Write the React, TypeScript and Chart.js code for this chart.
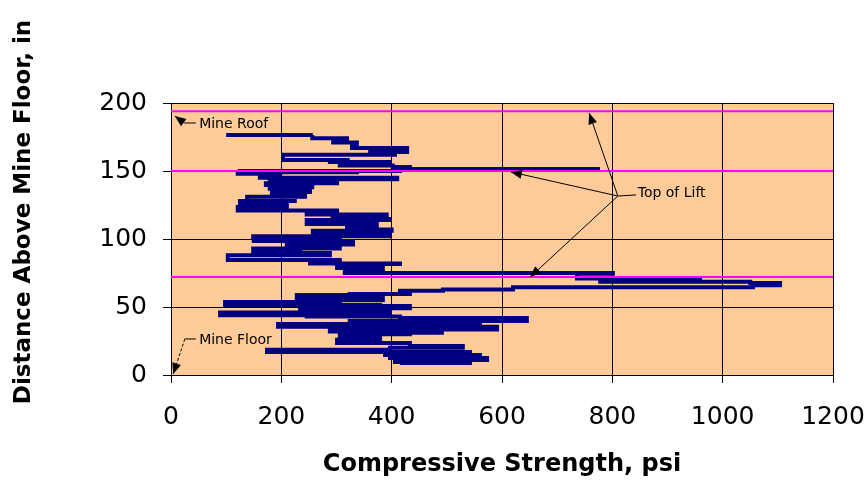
import React, { useEffect, useRef } from 'react';
import { Chart, registerables } from 'chart.js';

Chart.register(...registerables);

// Compressive strength (psi) profile, read top (roof side) to bottom (floor)
const strength = [
  100, 257, 256, 319, 294, 337, 328, 428, 361, 406, 203, 324, 288, 397, 306, 402, 433, 774, 415, 121,
  337, 121, 198, 161, 410, 179, 301, 172, 256, 179, 252, 183, 243, 138, 228, 125, 210, 121, 301, 246,
  391, 293, 397, 246, 373, 319, 400, 257, 397, 149, 306, 150, 330, 210, 306, 149, 234, 288, 103, 306,
  252, 415, 301, 384, 315, 801, 736, 959, 778, 1050, 1104, 1055, 620, 493, 415, 433, 324, 228, 384, 306,
  98, 379, 433, 234, 397, 89, 246, 415, 645, 324, 560, 194, 591, 288, 491, 433, 306, 379, 301, 433,
  529, 397, 174, 542, 388, 560, 397, 573, 406, 542, 415,
];
// Distance above mine floor (in) for each strength reading
const depth = [
  176.5, 176.5, 174, 173.5, 171, 169, 167, 164, 163, 162, 158, 158, 156.6, 156, 154, 153, 151.5, 150.7, 150, 150,
  149, 148, 147, 145, 144, 142.6, 141, 139.7, 138, 137, 134.6, 132, 131, 128, 128, 125, 123.5, 121, 120, 118,
  117, 114.7, 114, 111, 109.6, 107, 106, 103.7, 102, 100.7, 100, 98.5, 96, 95, 93, 91, 89.7, 88, 84.6, 84,
  82, 81.6, 78.7, 77, 75, 74.5, 71, 70.6, 68.5, 67.6, 66, 64.5, 62.8, 62, 61, 59.5, 58.8, 56.6, 55, 53.7,
  51.5, 50.7, 49, 47.8, 46, 44, 43, 42, 39.7, 38.5, 37.5, 35.5, 33.5, 32, 31, 30, 28, 26, 23.5, 21.3,
  20, 18.5, 17, 16.2, 14.7, 14, 12.5, 11, 9.6, 8.8, 8,
];

// Horizontal reference lines: mine roof and tops of lifts (in)
const referenceLevels = [194, 150, 72];

const xMin = 0;
const xMax = 1200;
const xStep = 200;
const yMin = 0;
const yMax = 200;
const yStep = 50;

const xTitle = 'Compressive Strength, psi';
const yTitle = 'Distance Above Mine Floor, in';

// Annotation anchors in data units
const roofLabel = { text: 'Mine Roof', x: 51, y: 184.6 };
const roofPath = [[45, 185.3], [24, 185.3], [7, 190.4]];
const floorLabel = { text: 'Mine Floor', x: 51, y: 25.7 };
const floorPath = [[45, 26.5], [25, 26.5], [4, 0.7]];
const liftLabel = { text: 'Top of Lift', x: 846, y: 133.8 };
const liftConnector = [[843, 132.4], [810, 131.6]];
const liftTips = [[758, 192.6], [616, 149.3], [651, 72]];

function drawArrowHead(ctx: CanvasRenderingContext2D, fx: number, fy: number, tx: number, ty: number) {
  const ang = Math.atan2(ty - fy, tx - fx);
  const len = 11;
  const half = 4.5;
  const bx = tx - len * Math.cos(ang);
  const by = ty - len * Math.sin(ang);
  ctx.beginPath();
  ctx.moveTo(tx, ty);
  ctx.lineTo(bx + half * Math.sin(ang), by - half * Math.cos(ang));
  ctx.lineTo(bx - half * Math.sin(ang), by + half * Math.cos(ang));
  ctx.closePath();
  ctx.fill();
}

const decorPlugin = {
  id: 'decor',
  beforeDraw(chart: any) {
    const { ctx, chartArea } = chart;
    ctx.save();
    ctx.fillStyle = '#FFCC99';
    ctx.fillRect(chartArea.left, chartArea.top, chartArea.right - chartArea.left, chartArea.bottom - chartArea.top);
    ctx.restore();
  },
  afterDraw(chart: any) {
    const { ctx } = chart;
    const xs = chart.scales.x;
    const ys = chart.scales.y;
    const px = (v: number) => xs.getPixelForValue(v);
    const py = (v: number) => ys.getPixelForValue(v);

    ctx.save();
    ctx.strokeStyle = '#000';
    ctx.fillStyle = '#000';
    ctx.lineWidth = 1;

    // Mine Roof
    ctx.beginPath();
    roofPath.forEach((p, i) => (i === 0 ? ctx.moveTo(px(p[0]), py(p[1])) : ctx.lineTo(px(p[0]), py(p[1]))));
    ctx.stroke();
    const rn = roofPath.length;
    drawArrowHead(ctx, px(roofPath[rn - 2][0]), py(roofPath[rn - 2][1]), px(roofPath[rn - 1][0]), py(roofPath[rn - 1][1]));

    // Mine Floor
    ctx.beginPath();
    ctx.moveTo(px(floorPath[0][0]), py(floorPath[0][1]));
    ctx.lineTo(px(floorPath[1][0]), py(floorPath[1][1]));
    ctx.stroke();
    ctx.setLineDash([3, 2]);
    ctx.beginPath();
    ctx.moveTo(px(floorPath[1][0]), py(floorPath[1][1]));
    ctx.lineTo(px(floorPath[2][0]), py(floorPath[2][1]));
    ctx.stroke();
    ctx.setLineDash([]);
    drawArrowHead(ctx, px(floorPath[1][0]), py(floorPath[1][1]), px(floorPath[2][0]), py(floorPath[2][1]));

    // Top of Lift
    ctx.beginPath();
    ctx.moveTo(px(liftConnector[0][0]), py(liftConnector[0][1]));
    ctx.lineTo(px(liftConnector[1][0]), py(liftConnector[1][1]));
    ctx.stroke();
    const hx = px(liftConnector[1][0]);
    const hy = py(liftConnector[1][1]);
    liftTips.forEach((t) => {
      const tx = px(t[0]);
      const ty = py(t[1]);
      ctx.beginPath();
      ctx.moveTo(hx, hy);
      ctx.lineTo(tx, ty);
      ctx.stroke();
      drawArrowHead(ctx, hx, hy, tx, ty);
    });

    ctx.font = '14px "DejaVu Sans"';
    ctx.textAlign = 'left';
    ctx.textBaseline = 'middle';
    [roofLabel, floorLabel, liftLabel].forEach((l) => ctx.fillText(l.text, px(l.x), py(l.y)));

    // Y axis title
    ctx.translate(24.5, 212);
    ctx.rotate(-Math.PI / 2);
    ctx.font = 'bold 23px "DejaVu Sans"';
    ctx.textAlign = 'center';
    ctx.textBaseline = 'middle';
    ctx.fillText(yTitle, 0, 0);
    ctx.restore();
  },
};

export default function App() {
  const canvasRef = useRef<HTMLCanvasElement | null>(null);

  useEffect(() => {
    const canvas = canvasRef.current;
    if (!canvas) return;

    const datasets: any[] = referenceLevels.map((lvl) => ({
      data: [
        { x: xMin, y: lvl },
        { x: xMax, y: lvl },
      ],
      borderColor: '#FF00FF',
      borderWidth: 2,
      pointRadius: 0,
      showLine: true,
      order: 0,
    }));
    datasets.push({
      data: strength.map((s, i) => ({ x: s, y: depth[i] })),
      borderColor: '#000080',
      borderWidth: 4,
      pointRadius: 0,
      showLine: true,
      stepped: true,
      order: 1,
    });

    const chart = new Chart(canvas, {
      type: 'scatter',
      data: { datasets },
      options: {
        animation: false,
        responsive: false,
        maintainAspectRatio: false,
        layout: { padding: { top: 103, right: 33, left: 0, bottom: 0 } },
        plugins: { legend: { display: false }, tooltip: { enabled: false } },
        scales: {
          x: {
            type: 'linear',
            min: xMin,
            max: xMax,
            ticks: {
              stepSize: xStep,
              color: '#000',
              font: { family: '"DejaVu Sans"', size: 25 },
              padding: 19,
              maxRotation: 0,
              autoSkip: false,
              callback: (v: any) => String(v),
            },
            grid: { color: '#000', lineWidth: 1, tickLength: 8, tickColor: '#000' },
            border: { color: '#000', width: 1 },
            title: {
              display: true,
              text: xTitle,
              color: '#000',
              font: { family: '"DejaVu Sans"', size: 24, weight: 'bold' },
              padding: { top: 0, bottom: 8 },
            },
            afterFit: (scale: any) => {
              scale.height = 112;
              scale.paddingLeft = 0;
              scale.paddingRight = 0;
            },
          },
          y: {
            type: 'linear',
            min: yMin,
            max: yMax,
            ticks: {
              stepSize: yStep,
              color: '#000',
              font: { family: '"DejaVu Sans"', size: 25 },
              padding: 16,
              callback: (v: any) => String(v),
            },
            grid: { color: '#000', lineWidth: 1, tickLength: 8, tickColor: '#000' },
            border: { color: '#000', width: 1 },
            afterFit: (scale: any) => {
              scale.width = 171;
              scale.paddingTop = 0;
              scale.paddingBottom = 0;
            },
          },
        },
      },
      plugins: [decorPlugin],
    });

    return () => chart.destroy();
  }, []);

  return (
    <div style={{ position: 'fixed', left: 0, top: 0, width: 866, height: 487, background: '#fff' }}>
      <canvas ref={canvasRef} width={866} height={487} style={{ width: 866, height: 487, display: 'block' }} />
    </div>
  );
}
